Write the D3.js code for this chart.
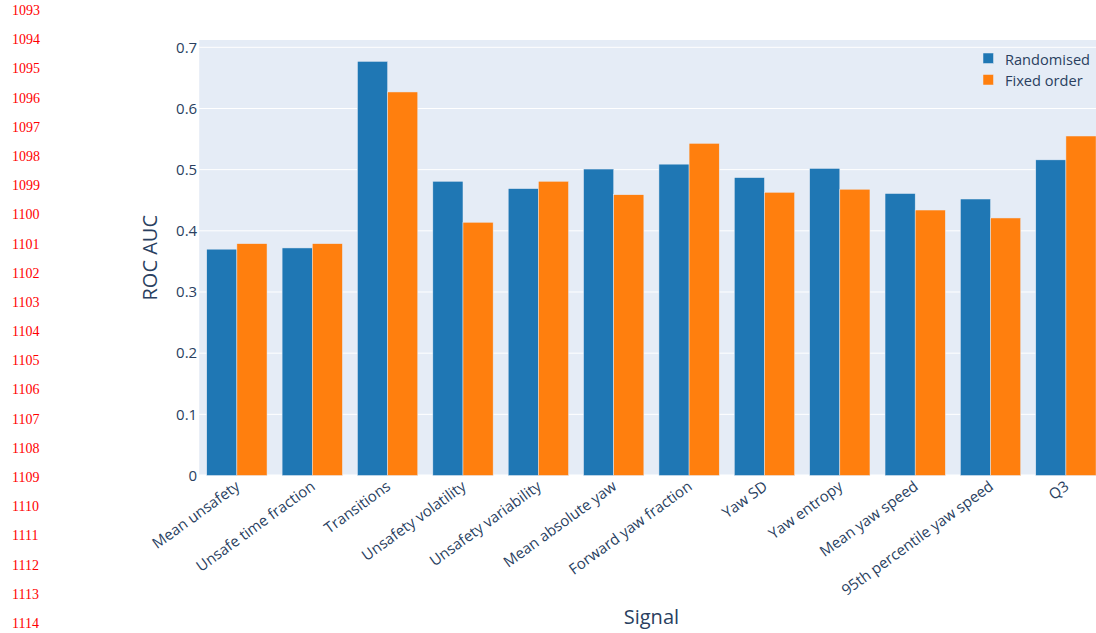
<!DOCTYPE html>
<html>
<head>
<meta charset="utf-8">
<script src="https://cdn.jsdelivr.net/npm/d3@7"></script>
<style>
  html, body { margin: 0; padding: 0; background: #fff; }
  svg { display: block; font-family: "Open Sans", verdana, arial, sans-serif; }
</style>
</head>
<body>
<svg id="chart" width="1096" height="633"></svg>
<script>
// Signals compared, in display order
const signals = [
  "Mean unsafety", "Unsafe time fraction", "Transitions", "Unsafety volatility",
  "Unsafety variability", "Mean absolute yaw", "Forward yaw fraction", "Yaw SD",
  "Yaw entropy", "Mean yaw speed", "95th percentile yaw speed", "Q3"
];
// ROC AUC per signal for each presentation condition
const randomised = [0.370, 0.372, 0.677, 0.481, 0.469, 0.501, 0.509, 0.487, 0.502, 0.461, 0.452, 0.516];
const fixedOrder = [0.379, 0.379, 0.627, 0.414, 0.481, 0.459, 0.543, 0.463, 0.468, 0.434, 0.421, 0.555];
const seriesNames = ["Randomised", "Fixed order"];
const seriesColors = ["#1f77b4", "#ff7f0e"];
const yTicks = [0, 0.1, 0.2, 0.3, 0.4, 0.5, 0.6, 0.7];
const yTickLabels = ["0", "0.1", "0.2", "0.3", "0.4", "0.5", "0.6", "0.7"];
// Manuscript line numbers in the margin
const lineNumbers = d3.range(1093, 1115);

const svg = d3.select("#chart");
const W = 1096, H = 633;
const plot = { left: 199.2, top: 40, right: 1103.6, bottom: 475.5 };
const textColor = "#2a3f5f";

svg.append("rect").attr("width", W).attr("height", H).attr("fill", "#fff");

// margin line numbers
svg.append("g").selectAll("text").data(lineNumbers).join("text")
  .attr("x", 12)
  .attr("y", (d, i) => 15 + i * 29.19)
  .attr("font-family", "'Liberation Serif', 'DejaVu Serif', serif")
  .attr("font-size", 14)
  .attr("fill", "#ff0000")
  .text(d => d);

const x = d3.scaleBand().domain(signals).range([plot.left, plot.right]).paddingInner(0.2).paddingOuter(0.1);
const xInner = d3.scaleBand().domain(seriesNames).range([0, x.bandwidth()]);
const y = d3.scaleLinear().domain([0, (plot.bottom - plot.top) / 611.7]).range([plot.bottom, plot.top]);

// plot background
svg.append("rect")
  .attr("x", plot.left).attr("y", plot.top)
  .attr("width", plot.right - plot.left).attr("height", plot.bottom - plot.top)
  .attr("fill", "#E5ECF6");

// horizontal gridlines
svg.append("g").selectAll("line").data(yTicks.filter(t => t > 0)).join("line")
  .attr("x1", plot.left).attr("x2", plot.right)
  .attr("y1", d => y(d)).attr("y2", d => y(d))
  .attr("stroke", "#fff").attr("stroke-width", 1);

// zero line
svg.append("line")
  .attr("x1", plot.left).attr("x2", plot.right)
  .attr("y1", y(0)).attr("y2", y(0))
  .attr("stroke", "#fff").attr("stroke-width", 2);

// grouped bars
const rows = signals.map((s, i) => ({ signal: s, values: [randomised[i], fixedOrder[i]] }));
const groups = svg.append("g").selectAll("g").data(rows).join("g")
  .attr("transform", d => `translate(${x(d.signal)},0)`);
groups.selectAll("rect").data(d => d.values.map((v, k) => ({ v, k }))).join("rect")
  .attr("x", d => xInner(seriesNames[d.k]))
  .attr("width", xInner.bandwidth())
  .attr("y", d => y(d.v))
  .attr("height", d => y(0) - y(d.v))
  .attr("fill", d => seriesColors[d.k])
  .attr("stroke", "#E5ECF6").attr("stroke-width", 0.5);

// y axis tick labels
const yAxis = d3.axisLeft(y).tickValues(yTicks).tickFormat((d, i) => yTickLabels[i]).tickSize(0).tickPadding(2);
const yG = svg.append("g").attr("transform", `translate(${plot.left},0)`).call(yAxis);
yG.select(".domain").remove();
yG.selectAll("text")
  .attr("font-family", "'Open Sans', sans-serif")
  .attr("font-size", 15).attr("fill", textColor);

// x axis tick labels, angled
const xAxis = d3.axisBottom(x).tickSize(0).tickPadding(0);
const xG = svg.append("g").attr("transform", `translate(0,${plot.bottom})`).call(xAxis);
xG.select(".domain").remove();
xG.selectAll("text")
  .attr("font-family", "'Open Sans', sans-serif")
  .attr("font-size", 15).attr("fill", textColor)
  .attr("text-anchor", "end")
  .attr("y", 0).attr("dy", 0)
  .attr("transform", "translate(4,13) rotate(-36)");

// axis titles
svg.append("text")
  .attr("x", (plot.left + plot.right) / 2).attr("y", 623.5)
  .attr("text-anchor", "middle")
  .attr("font-size", 20).attr("fill", textColor)
  .text("Signal");
svg.append("text")
  .attr("transform", `translate(156.5,${(plot.top + plot.bottom) / 2}) rotate(-90)`)
  .attr("text-anchor", "middle")
  .attr("font-size", 20).attr("fill", textColor)
  .text("ROC AUC");

// legend
const legend = svg.append("g").attr("transform", "translate(983,53)");
seriesNames.forEach((name, i) => {
  const g = legend.append("g").attr("transform", `translate(0,${i * 21.5})`);
  g.append("rect").attr("width", 10.5).attr("height", 10.5)
    .attr("fill", seriesColors[i]).attr("stroke", "#E5ECF6").attr("stroke-width", 0.5);
  g.append("text").attr("x", 22).attr("y", 11.5)
    .attr("font-size", 14.6).attr("fill", textColor)
    .text(name);
});
</script>
</body>
</html>
